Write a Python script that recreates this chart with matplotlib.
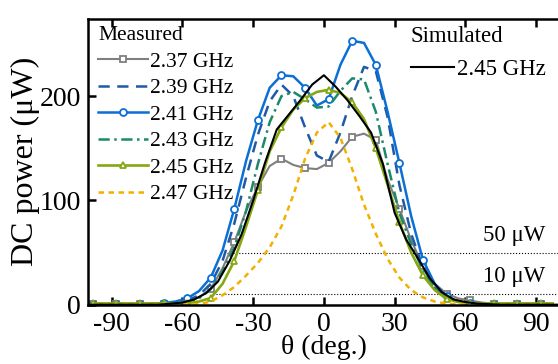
import numpy as np
import matplotlib
matplotlib.use("Agg")
import matplotlib.pyplot as plt

# measured angles (deg) - markers every 10 deg
theta = [-98, -93, -88, -83, -78, -73, -68, -63, -58, -53, -48, -43, -38, -33,
         -28, -23, -18, -13, -8, -3, 2, 7, 12, 17, 22, 27, 32, 37, 42, 47,
         52, 57, 62, 67, 72, 77, 82, 87, 92, 97]

p_237 = [0.5, 0.5, 0.5, 0.5, 0.5, 0.5, 1, 1.5, 3, 7, 15, 35, 60, 90,
         113, 133, 140, 134, 131, 130, 136, 147, 161, 164, 158, 120, 92, 62, 37, 20,
         10.6, 6, 4, 2, 1, 0.5, 0.5, 0.5, 0.5, 0.5]
p_239 = [0.5, 0.5, 0.5, 0.5, 0.5, 0.8, 1, 2, 4, 9, 20, 42, 78, 122,
         163, 195, 211, 200, 170, 143, 137, 165, 200, 228, 224, 180, 115, 68, 36, 16,
         7, 3, 1.5, 1, 0.5, 0.5, 0.5, 0.5, 0.5, 0.5]
p_241 = [0.5, 0.5, 0.5, 0.5, 0.5, 1, 1.5, 3, 6, 13, 26, 52, 92, 138,
         177, 208, 220, 219, 208, 191, 197, 230, 253, 251, 230, 185, 136, 85, 43, 20,
         8, 3, 1.5, 1, 0.5, 0.5, 0.5, 0.5, 0.5, 0.5]
p_243 = [0.5, 0.5, 0.5, 0.5, 0.5, 0.5, 1, 2, 3, 6, 15, 32, 55, 90,
         135, 175, 200, 204, 197, 189, 190, 205, 217, 216, 185, 135, 88, 58, 33, 16,
         7, 3, 1.5, 1, 0.5, 0.5, 0.5, 0.5, 0.5, 0.5]
p_245 = [1.2, 1.2, 1.2, 1.2, 1.2, 1.2, 1.2, 1.2, 1.5, 3, 6.4, 20, 42, 75,
         110, 147, 170, 187, 198, 204, 206, 203, 194, 178, 150, 115, 79, 50, 28, 14,
         5.5, 2.5, 1.5, 1.2, 1.2, 1.2, 1.2, 1.2, 1.2, 1.2]
p_247 = [0, 0, 0, 0, 0, 0, 0, 0.2, 0.3, 0.5, 3, 9, 17, 28,
         40, 55, 75, 105, 140, 165, 175, 160, 130, 96, 68, 44, 26, 14, 7, 3,
         1, 0.3, 0, 0, 0, 0, 0, 0, 0, 0]

# simulated 2.45 GHz
theta_sim = [-100, -95, -90, -85, -80, -75, -70, -65, -60, -55, -50, -45, -40, -35,
             -30, -25, -20, -15, -10, -5, 0, 5, 10, 15, 20, 25, 30, 35, 40, 45,
             50, 55, 60, 65, 70, 75, 80, 85, 90, 95, 100]
p_sim = [0, 0, 0, 0, 0, 0, 0, 1, 2, 5, 11, 22, 42, 67,
         100, 136, 168, 182, 196, 211, 220, 209, 196, 181, 165, 135, 88, 62, 44, 25,
         12, 5, 2.5, 1, 0.5, 0, 0, 0, 0, 0, 0]

plt.rcParams['font.family'] = ['Liberation Serif', 'DejaVu Serif']
plt.rcParams['axes.unicode_minus'] = False

fig = plt.figure(figsize=(5.58, 3.64), dpi=100)
ax = fig.add_axes([0.158, 0.163, 0.845, 0.785])

ax.hlines(50, -41, 100, colors='black', linestyles=':', linewidth=0.8)
ax.hlines(10, -47, 100, colors='black', linestyles=':', linewidth=0.8)

mk = dict(markevery=2, markersize=5, markerfacecolor='white', markeredgewidth=1.3)
l1, = ax.plot(theta, p_237, color='#7f7f7f', lw=1.5, marker='s', markeredgecolor='#7f7f7f', label='2.37 GHz', **mk)
l2, = ax.plot(theta, p_239, color='#1f5aa6', lw=1.8, dashes=(4.5, 3), label='2.39 GHz')
l3, = ax.plot(theta, p_241, color='#0b6fd4', lw=1.8, marker='o', markeredgecolor='#0b6fd4', label='2.41 GHz', **mk)
l4, = ax.plot(theta, p_243, color='#1b8a6b', lw=1.8, dashes=(4.5, 1.8, 1, 1.8), label='2.43 GHz')
l5, = ax.plot(theta, p_245, color='#85a812', lw=1.9, marker='^', markeredgecolor='#85a812', label='2.45 GHz', **mk)
l6, = ax.plot(theta, p_247, color='#f2b100', lw=1.8, dashes=(2.2, 1.8), label='2.47 GHz')
ls, = ax.plot(theta_sim, p_sim, color='black', lw=1.5, label='2.45 GHz')

ax.text(94, 56, '50 \u03bcW', ha='right', va='bottom', fontsize=16.5)
ax.text(94, 17, '10 \u03bcW', ha='right', va='bottom', fontsize=16.5)

leg1 = ax.legend(handles=[l1, l2, l3, l4, l5, l6], title='Measured', loc='upper left',
                 frameon=False, fontsize=15.5, title_fontsize=15.5, alignment='left',
                 handlelength=2.3, handletextpad=0.1, labelspacing=0.3,
                 borderaxespad=0.0, borderpad=0.2, bbox_to_anchor=(0.012, 0.99))
ax.add_artist(leg1)
ax.legend(handles=[ls], title='Simulated', loc='upper right', frameon=False,
          fontsize=16.5, title_fontsize=16.5, alignment='left',
          handlelength=1.9, handletextpad=0.1, borderaxespad=0.0,
          borderpad=0.2, bbox_to_anchor=(0.98, 0.99))

ax.set_xlim(-100, 100)
ax.set_ylim(0, 274)
ax.set_xticks([-90, -60, -30, 0, 30, 60, 90])
ax.set_yticks([0, 100, 200])
ax.tick_params(direction='in', length=6, width=1.8, labelsize=20, top=True, pad=5)
for s in ax.spines.values():
    s.set_linewidth(1.8)

ax.set_xlabel('\u03b8 (deg.)', fontsize=20, labelpad=-1)
ax.set_ylabel('DC power (\u03bcW)', fontsize=23, labelpad=0)

fig.savefig('out.png', dpi=100)
